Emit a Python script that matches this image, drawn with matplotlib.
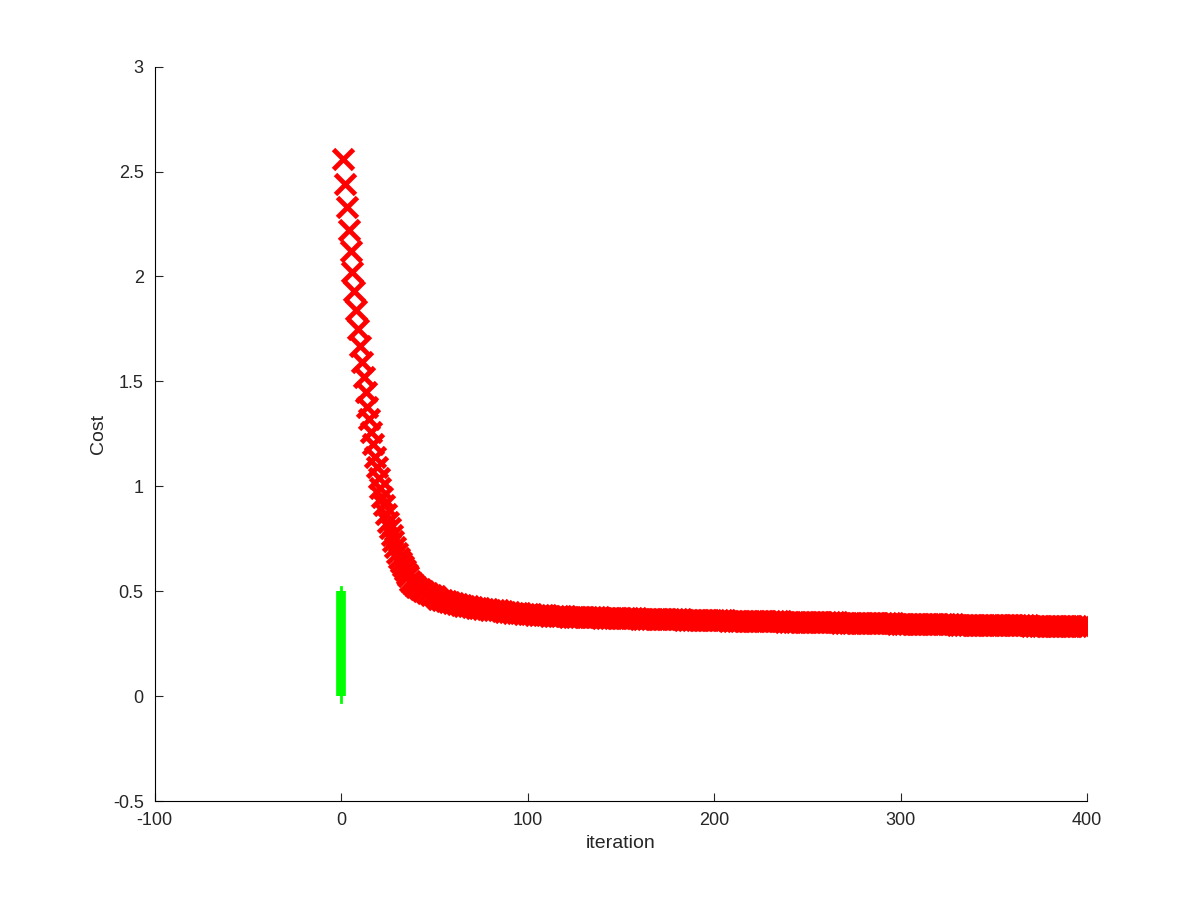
import numpy as np
import matplotlib.pyplot as plt

plt.rcParams['font.family'] = ['Liberation Sans', 'DejaVu Sans']
plt.rcParams['axes.unicode_minus'] = False

# cost per iteration
head_iter = list(range(1, 41))
head_cost = [2.56, 2.44, 2.33, 2.22, 2.12, 2.02, 1.93, 1.84, 1.75, 1.67,
             1.59, 1.52, 1.45, 1.38, 1.32, 1.26, 1.20, 1.14, 1.09, 1.04,
             0.99, 0.95, 0.91, 0.87, 0.83, 0.80, 0.77, 0.74, 0.71, 0.68,
             0.66, 0.64, 0.62, 0.60, 0.58, 0.57, 0.55, 0.54, 0.53, 0.52]
tail_iter = list(range(42, 401, 2))
tail_cost = [0.51, 0.50, 0.49, 0.48, 0.475, 0.465, 0.46, 0.455, 0.45, 0.445,
             0.44, 0.435, 0.43, 0.428, 0.425, 0.422, 0.42, 0.417, 0.414, 0.412,
             0.41, 0.408, 0.405, 0.403, 0.40, 0.398, 0.396, 0.394, 0.392, 0.39,
             0.389, 0.388, 0.387, 0.386, 0.385, 0.384, 0.383, 0.382, 0.381, 0.38,
             0.379, 0.378, 0.378, 0.377, 0.377, 0.376, 0.376, 0.375, 0.375, 0.374,
             0.374, 0.373, 0.373, 0.372, 0.372, 0.371, 0.371, 0.370, 0.370, 0.369,
             0.369, 0.368, 0.368, 0.367, 0.367, 0.366, 0.366, 0.366, 0.365, 0.365,
             0.365, 0.364, 0.364, 0.364, 0.363, 0.363, 0.363, 0.362, 0.362, 0.362,
             0.361, 0.361, 0.361, 0.360, 0.360, 0.360, 0.359, 0.359, 0.359, 0.358,
             0.358, 0.358, 0.357, 0.357, 0.357, 0.356, 0.356, 0.356, 0.355, 0.355,
             0.355, 0.354, 0.354, 0.354, 0.353, 0.353, 0.353, 0.352, 0.352, 0.352,
             0.351, 0.351, 0.351, 0.350, 0.350, 0.350, 0.349, 0.349, 0.349, 0.348,
             0.348, 0.348, 0.347, 0.347, 0.347, 0.346, 0.346, 0.346, 0.345, 0.345,
             0.345, 0.345, 0.344, 0.344, 0.344, 0.344, 0.343, 0.343, 0.343, 0.343,
             0.342, 0.342, 0.342, 0.342, 0.341, 0.341, 0.341, 0.341, 0.340, 0.340,
             0.340, 0.340, 0.339, 0.339, 0.339, 0.339, 0.338, 0.338, 0.338, 0.338,
             0.337, 0.337, 0.337, 0.337, 0.336, 0.336, 0.336, 0.336, 0.335, 0.335,
             0.335, 0.335, 0.334, 0.334, 0.334, 0.334, 0.333, 0.333, 0.333, 0.333]
green_x = [0, 0]
green_y = [0, 0.5]

iters = head_iter + tail_iter
cost = head_cost + tail_cost

fig = plt.figure(figsize=(12, 9), dpi=100)
ax = fig.add_axes([0.129, 0.11, 0.777, 0.816])

ax.plot(iters, cost, 'x', color='#ff0000', ms=14, mew=3.5, linestyle='none')
ax.plot(green_x, [-0.03, 0.52], color='#00ff00', lw=2)
ax.plot(green_x, green_y, color='#00ff00', lw=7, solid_capstyle='butt')

ax.set_xlim(-100, 400)
ax.set_ylim(-0.5, 3)
ax.set_xticks([-100, 0, 100, 200, 300, 400])
ax.set_yticks([-0.5, 0, 0.5, 1, 1.5, 2, 2.5, 3])
ax.set_yticklabels(['-0.5', '0', '0.5', '1', '1.5', '2', '2.5', '3'])
ax.spines['top'].set_visible(False)
ax.spines['right'].set_visible(False)
ax.tick_params(direction='in', length=6, labelsize=13, colors='#262626', pad=8)
ax.set_xlabel('iteration', fontsize=14, color='#262626')
ax.set_ylabel('Cost', fontsize=14, color='#262626')

fig.savefig('out.png', dpi=100)
